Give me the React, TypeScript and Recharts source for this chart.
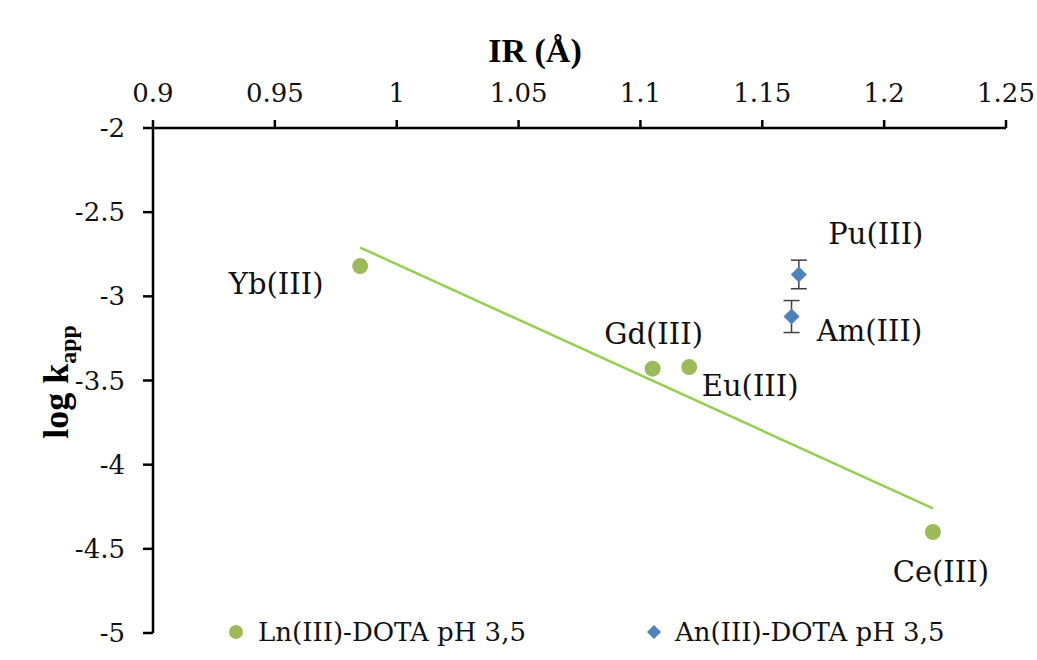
import { ScatterChart, Scatter, XAxis, YAxis, ErrorBar, LabelList } from "recharts";

// Ln(III)-DOTA series
const lnNames = ["Yb(III)", "Gd(III)", "Eu(III)", "Ce(III)"];
const lnIR = [0.985, 1.105, 1.12, 1.22];
const lnLogK = [-2.82, -3.43, -3.42, -4.4];

// An(III)-DOTA series
const anNames = ["Pu(III)", "Am(III)"];
const anIR = [1.165, 1.162];
const anLogK = [-2.87, -3.12];
const anErr = [0.085, 0.095];

// linear trendline of the Ln series (end points)
const trendIR = [0.985, 1.22];
const trendLogK = [-2.71, -4.26];

const xTicks = [0.9, 0.95, 1, 1.05, 1.1, 1.15, 1.2, 1.25];
const yTicks = [-2, -2.5, -3, -3.5, -4, -4.5, -5];

// where each point's name sits, relative to the marker
const labelOffset: Record<string, [number, number]> = {
  "Yb(III)": [-84, 18],
  "Gd(III)": [1, -35],
  "Eu(III)": [61, 19],
  "Ce(III)": [8, 40],
  "Pu(III)": [77, -41],
  "Am(III)": [78, 14],
};

const lnData = lnNames.map((name, i) => ({ name, x: lnIR[i], y: lnLogK[i] }));
const anData = anNames.map((name, i) => ({ name, x: anIR[i], y: anLogK[i], err: anErr[i] }));
const trendData = trendIR.map((x, i) => ({ x, y: trendLogK[i] }));

const GREEN = "#9bbb59";
const BLUE = "#4f81bd";
const LINE = "#92d050";
const serif = "'DejaVu Serif', serif";
const titleFont = "'Liberation Serif', serif";

const Diamond = (p: any) => (
  <polygon
    points={`${p.cx},${p.cy - 8} ${p.cx + 8},${p.cy} ${p.cx},${p.cy + 8} ${p.cx - 8},${p.cy}`}
    fill={BLUE}
  />
);

const Dot = (p: any) => <circle cx={p.cx} cy={p.cy} r={8} fill={GREEN} />;

const PointName = (p: any) => {
  const off = labelOffset[p.value] || [0, 0];
  const cx = p.x + p.width / 2;
  const cy = p.y + p.height / 2;
  return (
    <text x={cx + off[0]} y={cy + off[1]} dy="0.35em" textAnchor="middle" fontFamily={serif} fontSize={29} fill="#111">
      {p.value}
    </text>
  );
};

const XTick = (p: any) => (
  <text x={p.x} y={p.y} textAnchor="middle" fontFamily={serif} fontSize={26} fill="#111">
    {p.payload.value}
  </text>
);

const YTick = (p: any) => (
  <text x={p.x} y={p.y} dy="0.35em" textAnchor="end" fontFamily={serif} fontSize={26} fill="#111">
    {p.payload.value}
  </text>
);

export default function App() {
  return (
    <div style={{ position: "absolute", left: 0, top: 0, width: 1037, height: 660, background: "#fff" }}>
      <ScatterChart width={1037} height={660} margin={{ top: 68, right: 31, bottom: 27, left: 55 }}>
        <XAxis
          type="number"
          dataKey="x"
          orientation="top"
          height={60}
          domain={[0.9, 1.25]}
          ticks={xTicks}
          allowDataOverflow
          stroke="#000"
          strokeWidth={2.5}
          tickSize={8}
          tickMargin={18}
          tick={<XTick />}
          label={{
            content: () => (
              <text x={535} y={62} textAnchor="middle" fontFamily={titleFont} fontWeight="bold" fontSize={34} fill="#000">
                IR (Å)
              </text>
            ),
          }}
        />
        <YAxis
          type="number"
          dataKey="y"
          width={98}
          domain={[-5, -2]}
          ticks={yTicks}
          allowDataOverflow
          stroke="#000"
          strokeWidth={2.5}
          tickSize={10}
          tickMargin={18}
          tick={<YTick />}
          label={{
            content: () => (
              <text
                x={55}
                y={382}
                transform="rotate(-90 55 382)"
                textAnchor="middle"
                dy="0.35em"
                fontFamily={titleFont}
                fontWeight="bold"
                fontSize={36}
                fill="#000"
              >
                log k
                <tspan fontSize={24} dy="8">app</tspan>
              </text>
            ),
          }}
        />
        <Scatter
          data={trendData}
          line={{ stroke: LINE, strokeWidth: 2.5 }}
          shape={() => <g />}
          isAnimationActive={false}
          legendType="none"
        />
        <Scatter data={lnData} shape={<Dot />} isAnimationActive={false}>
          <LabelList dataKey="name" content={<PointName />} />
        </Scatter>
        <Scatter data={anData} shape={<Diamond />} isAnimationActive={false}>
          <ErrorBar dataKey="err" direction="y" width={8} stroke="#404040" strokeWidth={1.5} />
          <LabelList dataKey="name" content={<PointName />} />
        </Scatter>
      </ScatterChart>
      <div
        style={{
          position: "absolute",
          top: 617,
          left: 0,
          width: 1037,
          height: 30,
          fontFamily: serif,
          fontSize: 26,
          color: "#111",
        }}
      >
        <svg width={20} height={20} style={{ position: "absolute", left: 226, top: 5 }}>
          <circle cx={10} cy={10} r={7} fill={GREEN} />
        </svg>
        <span style={{ position: "absolute", left: 258, top: 0, lineHeight: "30px", whiteSpace: "nowrap" }}>
          Ln(III)-DOTA pH 3,5
        </span>
        <svg width={20} height={20} style={{ position: "absolute", left: 644, top: 5 }}>
          <polygon points="10,3 17,10 10,17 3,10" fill={BLUE} />
        </svg>
        <span style={{ position: "absolute", left: 675, top: 0, lineHeight: "30px", whiteSpace: "nowrap" }}>
          An(III)-DOTA pH 3,5
        </span>
      </div>
    </div>
  );
}
